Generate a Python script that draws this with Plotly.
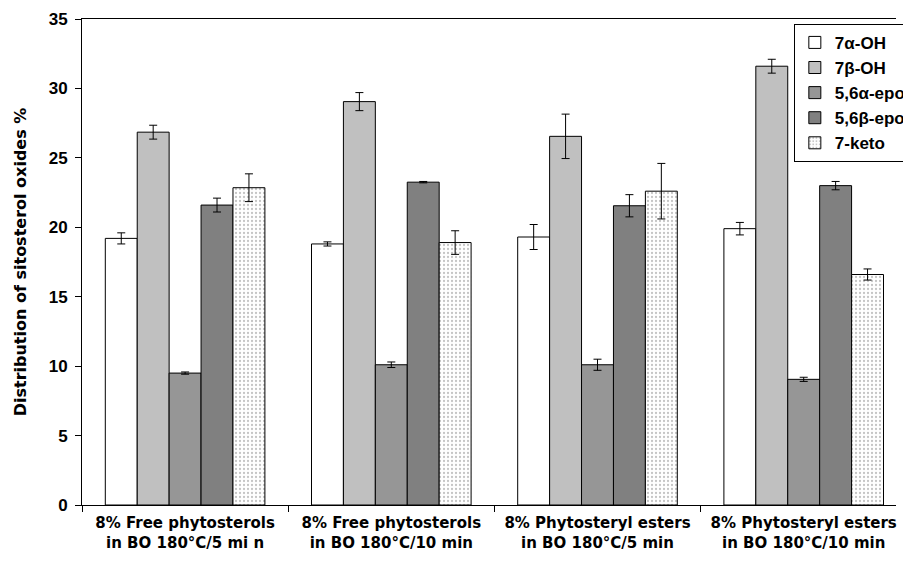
import plotly.graph_objects as go

categories = ["8% Free phytosterols<br>in BO 180°C/5 mi n",
              "8% Free phytosterols<br>in BO 180°C/10 min",
              "8% Phytosteryl esters<br>in BO 180°C/5 min",
              "8% Phytosteryl esters<br>in BO 180°C/10 min"]
series_names = ["7α-OH", "7β-OH", "5,6α-epo", "5,6β-epo", "7-keto"]
oh7a = [19.2, 18.8, 19.3, 19.9]
oh7a_err = [0.4, 0.15, 0.9, 0.45]
oh7b = [26.85, 29.05, 26.55, 31.6]
oh7b_err = [0.5, 0.65, 1.6, 0.5]
epo56a = [9.5, 10.1, 10.1, 9.05]
epo56a_err = [0.08, 0.2, 0.4, 0.15]
epo56b = [21.6, 23.25, 21.55, 23.0]
epo56b_err = [0.5, 0.05, 0.8, 0.3]
keto7 = [22.85, 18.9, 22.6, 16.6]
keto7_err = [1.0, 0.85, 2.0, 0.4]
y_ticks = [0, 5, 10, 15, 20, 25, 30, 35]

values = [oh7a, oh7b, epo56a, epo56b, keto7]
errors = [oh7a_err, oh7b_err, epo56a_err, epo56b_err, keto7_err]
colors = ["#ffffff", "#c0c0c0", "#969696", "#808080", "#ffffff"]

fig = go.Figure()
for i, name in enumerate(series_names):
    marker = dict(color=colors[i], line=dict(color="black", width=1))
    if name == "7-keto":
        marker["pattern"] = dict(shape=".", fgcolor="#8a8a8a", bgcolor="#ffffff",
                                 size=4, solidity=0.25)
    fig.add_trace(go.Bar(
        name=name, x=categories, y=values[i], marker=marker,
        error_y=dict(type="data", array=errors[i], color="black",
                     thickness=1, width=4),
    ))

wide = "DejaVu Sans, Verdana, sans-serif"
arial = "Liberation Sans, Arial, sans-serif"
fig.update_layout(
    width=903, height=554,
    margin=dict(l=74, r=0, t=11, b=57),
    paper_bgcolor="white", plot_bgcolor="white",
    barmode="group", bargap=0.226, bargroupgap=0,
    font=dict(family=arial, color="black"),
    showlegend=True,
    legend=dict(x=0.8745, y=0.99, xanchor="left", yanchor="top",
                bgcolor="white", bordercolor="black", borderwidth=1,
                font=dict(size=17, weight="bold", family=arial),
                entrywidth=60, entrywidthmode="pixels",
                tracegroupgap=0),
    xaxis=dict(range=[-0.5, 3.4476], showline=True, linecolor="black",
               linewidth=1, mirror=True, ticks="outside", tickson="boundaries",
               ticklen=6, tickcolor="black", showgrid=False, automargin=False,
               ticklabelstandoff=4,
               tickfont=dict(size=15, weight="bold", family=wide)),
    yaxis=dict(range=[0, 35], tickvals=y_ticks, showline=True, linecolor="black",
               linewidth=1, ticks="outside", ticklen=6, tickcolor="black",
               showgrid=False, zeroline=False, automargin=False,
               ticklabelstandoff=4,
               tickfont=dict(size=17, weight="bold", family=arial),
               title=dict(text="Distribution of sitosterol oxides %",
                          font=dict(size=16, weight="bold", family=wide),
                          standoff=18)),
)
fig.write_html("out.html")
